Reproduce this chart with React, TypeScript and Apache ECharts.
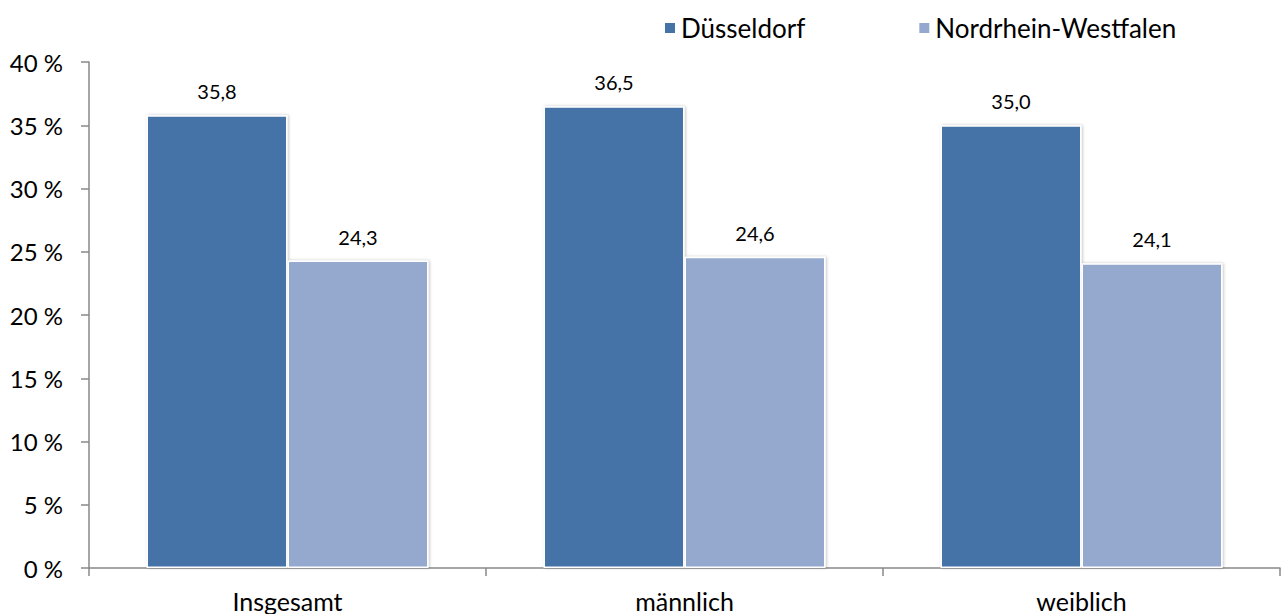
import React, { useEffect, useRef } from "react";
import * as echarts from "echarts";

const categories = ["Insgesamt", "männlich", "weiblich"];
const duesseldorf = [35.8, 36.5, 35.0];
const nrw = [24.3, 24.6, 24.1];
const seriesNames = ["Düsseldorf", "Nordrhein-Westfalen"];

const FONT = "Lato, 'Open Sans', sans-serif";

export default function App() {
  const ref = useRef<HTMLDivElement>(null);
  useEffect(() => {
    if (!ref.current) return;
    const chart = echarts.init(ref.current, undefined, { renderer: "svg" });
    const fmt = (p: any) => Number(p.value).toFixed(1).replace(".", ",");
    const barLabel = {
      show: true,
      position: "top",
      distance: 14,
      fontSize: 20,
      color: "#000",
      fontFamily: FONT,
      formatter: fmt,
    };
    chart.setOption({
      animation: false,
      textStyle: { fontFamily: FONT },
      legend: {
        left: 663,
        top: 15,
        padding: 0,
        icon: "rect",
        itemWidth: 12,
        itemHeight: 12,
        itemGap: 112,
        textStyle: { fontSize: 26, color: "#000", fontFamily: FONT },
        data: seriesNames,
      },
      grid: { left: 89, right: 2, top: 62, bottom: 46, containLabel: false },
      xAxis: {
        type: "category",
        data: categories,
        axisLine: { lineStyle: { color: "#888", width: 1.5 } },
        axisTick: { show: true, length: 8, lineStyle: { color: "#888", width: 1.5 } },
        axisLabel: { fontSize: 25, color: "#000", margin: 20, fontFamily: FONT },
      },
      yAxis: {
        type: "value",
        min: 0,
        max: 40,
        interval: 5,
        axisLine: { show: true, lineStyle: { color: "#888", width: 1.5 } },
        axisTick: { show: true, length: 8, lineStyle: { color: "#888", width: 1.5 } },
        splitLine: { show: false },
        axisLabel: {
          fontSize: 24,
          color: "#000",
          margin: 26,
          fontFamily: FONT,
          formatter: (v: number) => `${v} %`,
        },
      },
      series: [
        {
          name: seriesNames[0],
          type: "bar",
          data: duesseldorf,
          barWidth: 141,
          barGap: "0%",
          itemStyle: {
            color: "#4573A7",
            borderColor: "#fff",
            borderWidth: 1.5,
            shadowColor: "rgba(0,0,0,0.25)",
            shadowBlur: 3,
            shadowOffsetX: 1,
          },
          label: barLabel,
        },
        {
          name: seriesNames[1],
          type: "bar",
          data: nrw,
          barWidth: 141,
          itemStyle: {
            color: "#95A9CF",
            borderColor: "#fff",
            borderWidth: 1.5,
            shadowColor: "rgba(0,0,0,0.25)",
            shadowBlur: 3,
            shadowOffsetX: 1,
          },
          label: barLabel,
        },
      ],
    });
    return () => chart.dispose();
  }, []);
  return (
    <div
      ref={ref}
      style={{ width: 1282, height: 614, position: "absolute", left: 0, top: 0, background: "#fff" }}
    />
  );
}
